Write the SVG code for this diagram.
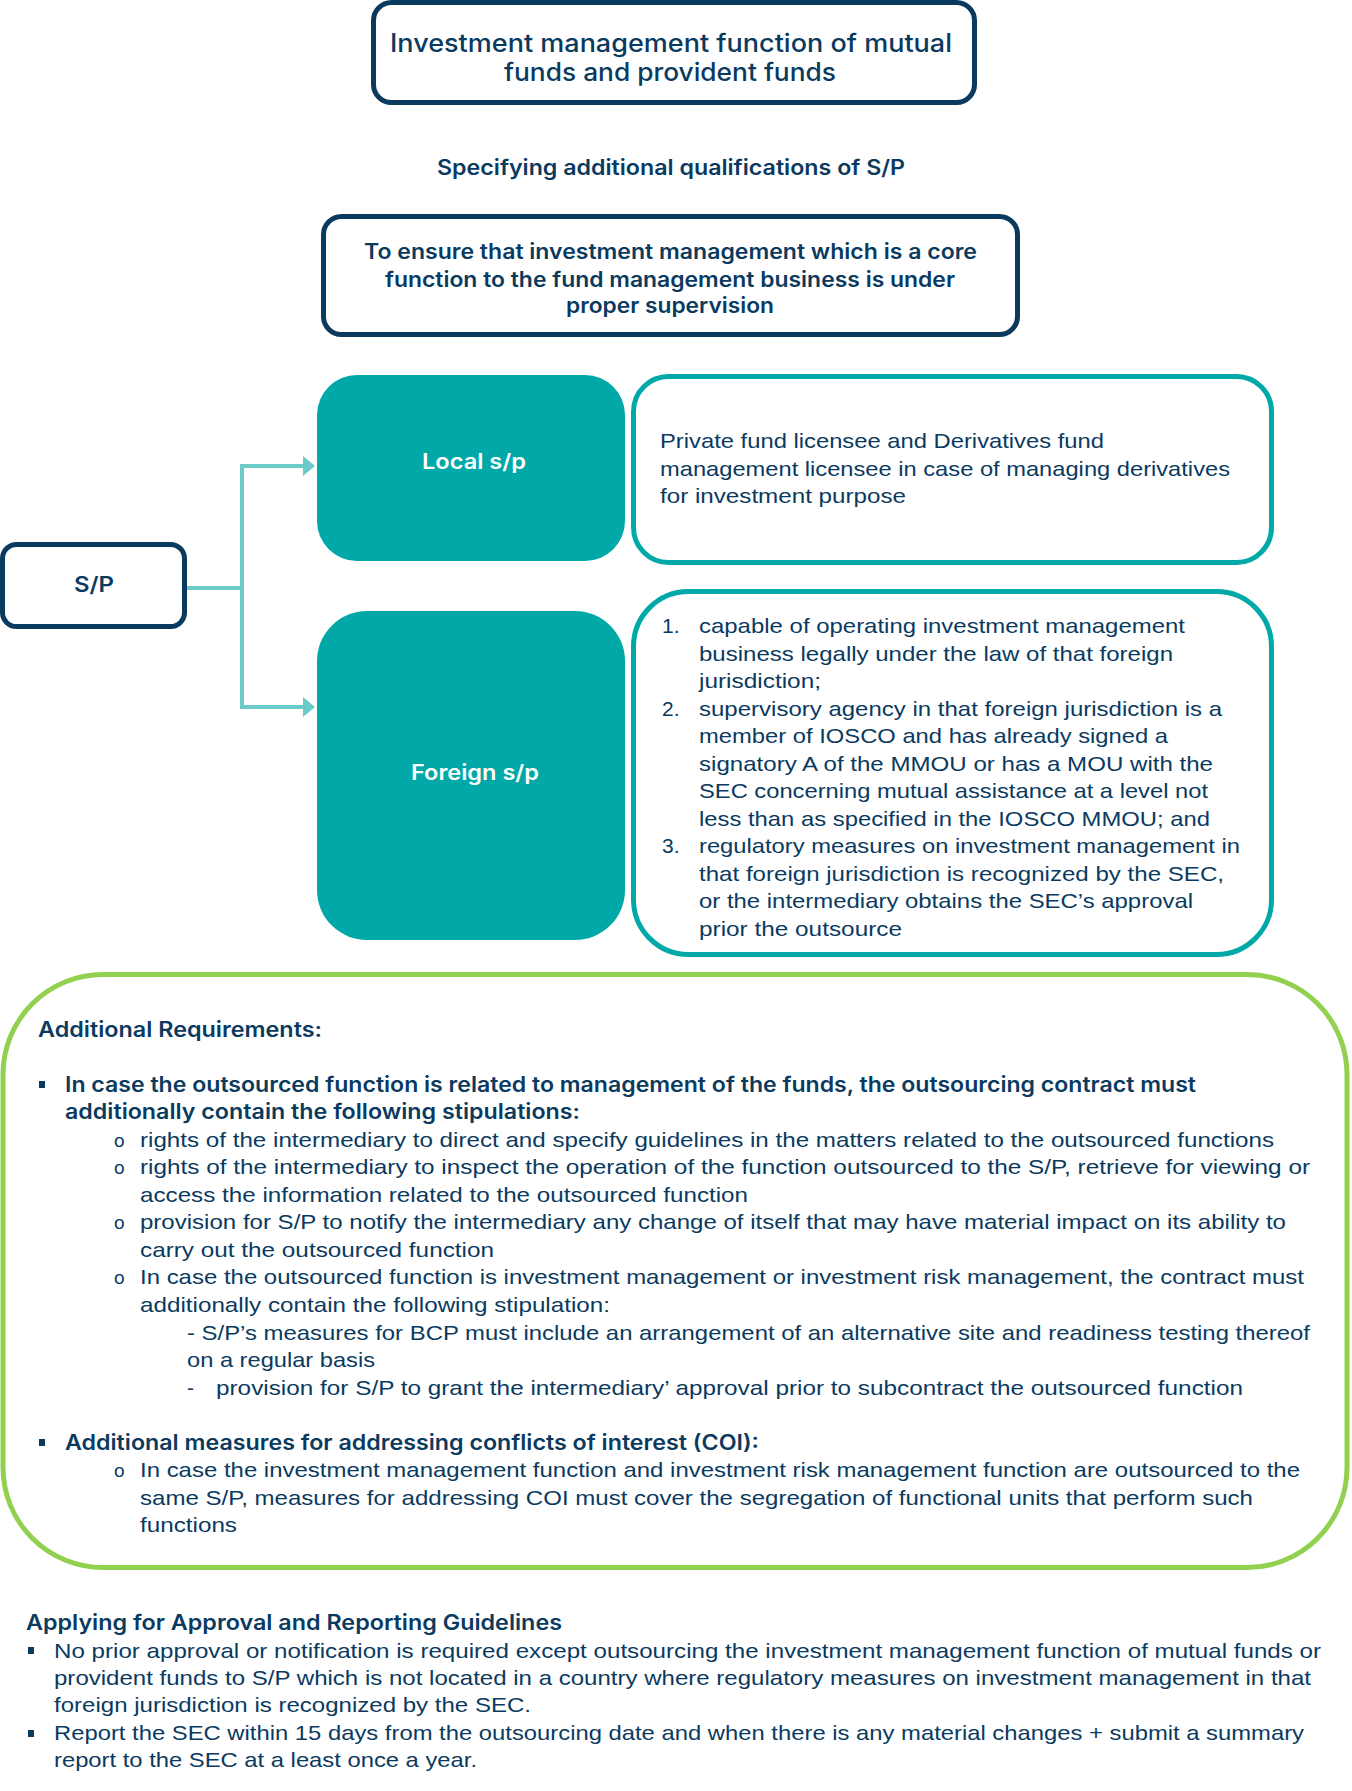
<svg xmlns="http://www.w3.org/2000/svg" width="1352" height="1791" viewBox="0 0 1352 1791">
<defs>
<style>
.nb{fill:none;stroke:#0B3A5F;stroke-width:5}
.tb{fill:none;stroke:#00A9A7;stroke-width:5}
.tf{fill:#00A9A7}
.gb{fill:none;stroke:#92D050;stroke-width:5}
.h{font-family:Inter,"Liberation Sans",sans-serif;font-weight:600;font-size:21px;fill:#0B3A5F}
.ttl{font-family:Inter,"Liberation Sans",sans-serif;font-weight:500;font-size:25px;fill:#0B3A5F}
.w{font-family:Inter,"Liberation Sans",sans-serif;font-weight:600;font-size:21px;fill:#FFFFFF}
.b{font-family:"Liberation Sans",Arial,sans-serif;font-size:21px;fill:#0B3A5F}
.o{font-family:"Liberation Sans",Arial,sans-serif;font-size:19px;fill:#0B3A5F}
.conn{fill:none;stroke:#6ACBC9;stroke-width:4}
.sq{fill:#0B3A5F}
</style>
<marker id="arr" viewBox="0 0 12 20" refX="0" refY="10" markerWidth="12" markerHeight="20" markerUnits="userSpaceOnUse" orient="auto">
<path d="M0,0 L12,10 L0,20 Z" fill="#6ACBC9"/>
</marker>
</defs>
<rect width="1352" height="1791" fill="#FFFFFF"/>

<g id="title">
<rect class="nb" x="373.5" y="2.5" width="601" height="100" rx="18"/>
<text class="ttl" x="390" y="52" textLength="562" lengthAdjust="spacingAndGlyphs">Investment management function of mutual</text>
<text class="ttl" x="504" y="81" textLength="332" lengthAdjust="spacingAndGlyphs">funds and provident funds</text>
</g>

<g id="subtitle">
<text class="h" x="437" y="175" textLength="468" lengthAdjust="spacingAndGlyphs">Specifying additional qualifications of S/P</text>
</g>

<g id="purpose">
<rect class="nb" x="323.5" y="216.5" width="694" height="118" rx="18"/>
<text class="h" x="364" y="259" textLength="613" lengthAdjust="spacingAndGlyphs">To ensure that investment management which is a core</text>
<text class="h" x="385" y="287" textLength="570" lengthAdjust="spacingAndGlyphs">function to the fund management business is under</text>
<text class="h" x="566" y="313" textLength="208" lengthAdjust="spacingAndGlyphs">proper supervision</text>
</g>

<g id="sp">
<rect class="nb" x="2.5" y="544.5" width="182" height="82" rx="14"/>
<text class="h" x="74" y="592" textLength="40" lengthAdjust="spacingAndGlyphs">S/P</text>
</g>

<g id="connectors">
<path class="conn" d="M187,588 L242,588"/>
<path class="conn" d="M242,464 L242,709"/>
<path class="conn" d="M242,466 L303,466" marker-end="url(#arr)"/>
<path class="conn" d="M242,707 L303,707" marker-end="url(#arr)"/>
</g>

<g id="local">
<rect class="tf" x="317" y="375" width="308" height="186" rx="40"/>
<text class="w" x="422" y="469" textLength="104" lengthAdjust="spacingAndGlyphs">Local s/p</text>
</g>

<g id="local-desc">
<rect class="tb" x="633.5" y="376.5" width="638" height="186" rx="35"/>
<text class="b" x="660" y="448" textLength="444" lengthAdjust="spacingAndGlyphs">Private fund licensee and Derivatives fund</text>
<text class="b" x="660" y="476" textLength="570" lengthAdjust="spacingAndGlyphs">management licensee in case of managing derivatives</text>
<text class="b" x="660" y="503" textLength="246" lengthAdjust="spacingAndGlyphs">for investment purpose</text>
</g>

<g id="foreign">
<rect class="tf" x="317" y="611" width="308" height="329" rx="50"/>
<text class="w" x="411" y="780" textLength="128" lengthAdjust="spacingAndGlyphs">Foreign s/p</text>
</g>

<g id="foreign-desc">
<rect class="tb" x="633.5" y="591.5" width="638" height="363" rx="55"/>
<text class="b" x="662" y="633">1.</text>
<text class="b" x="662" y="715.5">2.</text>
<text class="b" x="662" y="853">3.</text>
<text class="b" x="699" y="633" textLength="486" lengthAdjust="spacingAndGlyphs">capable of operating investment management</text>
<text class="b" x="699" y="660.5" textLength="474" lengthAdjust="spacingAndGlyphs">business legally under the law of that foreign</text>
<text class="b" x="699" y="688" textLength="122" lengthAdjust="spacingAndGlyphs">jurisdiction;</text>
<text class="b" x="699" y="715.5" textLength="523" lengthAdjust="spacingAndGlyphs">supervisory agency in that foreign jurisdiction is a</text>
<text class="b" x="699" y="743" textLength="469" lengthAdjust="spacingAndGlyphs">member of IOSCO and has already signed a</text>
<text class="b" x="699" y="770.5" textLength="514" lengthAdjust="spacingAndGlyphs">signatory A of the MMOU or has a MOU with the</text>
<text class="b" x="699" y="798" textLength="509" lengthAdjust="spacingAndGlyphs">SEC concerning mutual assistance at a level not</text>
<text class="b" x="699" y="825.5" textLength="511" lengthAdjust="spacingAndGlyphs">less than as specified in the IOSCO MMOU; and</text>
<text class="b" x="699" y="853" textLength="541" lengthAdjust="spacingAndGlyphs">regulatory measures on investment management in</text>
<text class="b" x="699" y="880.5" textLength="525" lengthAdjust="spacingAndGlyphs">that foreign jurisdiction is recognized by the SEC,</text>
<text class="b" x="699" y="908" textLength="494" lengthAdjust="spacingAndGlyphs">or the intermediary obtains the SEC’s approval</text>
<text class="b" x="699" y="935.5" textLength="203" lengthAdjust="spacingAndGlyphs">prior the outsource</text>
</g>

<g id="additional-requirements">
<rect class="gb" x="3" y="974.5" width="1344" height="593" rx="100"/>
<text class="h" x="38" y="1037" textLength="284" lengthAdjust="spacingAndGlyphs">Additional Requirements:</text>
<rect class="sq" x="39" y="1081" width="6" height="7"/>
<text class="h" x="65" y="1092" textLength="1131" lengthAdjust="spacingAndGlyphs">In case the outsourced function is related to management of the funds, the outsourcing contract must</text>
<text class="h" x="65" y="1119" textLength="515" lengthAdjust="spacingAndGlyphs">additionally contain the following stipulations:</text>
<text class="o" x="114" y="1147">o</text>
<text class="b" x="140" y="1147" textLength="1134" lengthAdjust="spacingAndGlyphs">rights of the intermediary to direct and specify guidelines in the matters related to the outsourced functions</text>
<text class="o" x="114" y="1174">o</text>
<text class="b" x="140" y="1174" textLength="1170" lengthAdjust="spacingAndGlyphs">rights of the intermediary to inspect the operation of the function outsourced to the S/P, retrieve for viewing or</text>
<text class="b" x="140" y="1202" textLength="608" lengthAdjust="spacingAndGlyphs">access the information related to the outsourced function</text>
<text class="o" x="114" y="1229">o</text>
<text class="b" x="140" y="1229" textLength="1146" lengthAdjust="spacingAndGlyphs">provision for S/P to notify the intermediary any change of itself that may have material impact on its ability to</text>
<text class="b" x="140" y="1257" textLength="354" lengthAdjust="spacingAndGlyphs">carry out the outsourced function</text>
<text class="o" x="114" y="1284">o</text>
<text class="b" x="140" y="1284" textLength="1164" lengthAdjust="spacingAndGlyphs">In case the outsourced function is investment management or investment risk management, the contract must</text>
<text class="b" x="140" y="1312" textLength="470" lengthAdjust="spacingAndGlyphs">additionally contain the following stipulation:</text>
<text class="b" x="187" y="1340" textLength="1123" lengthAdjust="spacingAndGlyphs">- S/P’s measures for BCP must include an arrangement of an alternative site and readiness testing thereof</text>
<text class="b" x="187" y="1367" textLength="188" lengthAdjust="spacingAndGlyphs">on a regular basis</text>
<text class="b" x="187" y="1395">-</text>
<text class="b" x="216" y="1395" textLength="1027" lengthAdjust="spacingAndGlyphs">provision for S/P to grant the intermediary’ approval prior to subcontract the outsourced function</text>
<rect class="sq" x="39" y="1439" width="6" height="7"/>
<text class="h" x="65" y="1450" textLength="694" lengthAdjust="spacingAndGlyphs">Additional measures for addressing conflicts of interest (COI):</text>
<text class="o" x="114" y="1477">o</text>
<text class="b" x="140" y="1477" textLength="1160" lengthAdjust="spacingAndGlyphs">In case the investment management function and investment risk management function are outsourced to the</text>
<text class="b" x="140" y="1505" textLength="1113" lengthAdjust="spacingAndGlyphs">same S/P, measures for addressing COI must cover the segregation of functional units that perform such</text>
<text class="b" x="140" y="1532" textLength="97" lengthAdjust="spacingAndGlyphs">functions</text>
</g>

<g id="guidelines">
<text class="h" x="26" y="1630" textLength="536" lengthAdjust="spacingAndGlyphs">Applying for Approval and Reporting Guidelines</text>
<rect class="sq" x="28" y="1647" width="6" height="7"/>
<text class="b" x="54" y="1658" textLength="1267" lengthAdjust="spacingAndGlyphs">No prior approval or notification is required except outsourcing the investment management function of mutual funds or</text>
<text class="b" x="54" y="1685" textLength="1257" lengthAdjust="spacingAndGlyphs">provident funds to S/P which is not located in a country where regulatory measures on investment management in that</text>
<text class="b" x="54" y="1712" textLength="477" lengthAdjust="spacingAndGlyphs">foreign jurisdiction is recognized by the SEC.</text>
<rect class="sq" x="28" y="1730" width="6" height="7"/>
<text class="b" x="54" y="1740" textLength="1250" lengthAdjust="spacingAndGlyphs">Report the SEC within 15 days from the outsourcing date and when there is any material changes + submit a summary</text>
<text class="b" x="54" y="1767" textLength="423" lengthAdjust="spacingAndGlyphs">report to the SEC at a least once a year.</text>
</g>
</svg>
